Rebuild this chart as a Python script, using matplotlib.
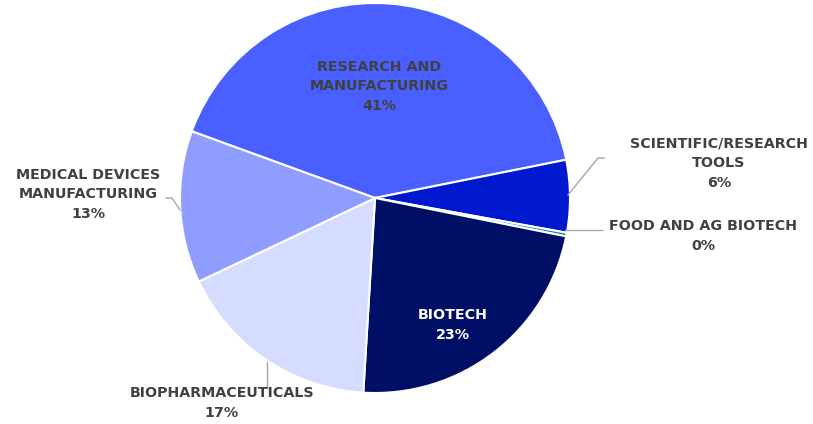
import matplotlib.pyplot as plt

# shares by segment (percent)
segments = ['RESEARCH AND\nMANUFACTURING', 'SCIENTIFIC/RESEARCH\nTOOLS', 'FOOD AND AG BIOTECH',
            'BIOTECH', 'BIOPHARMACEUTICALS', 'MEDICAL DEVICES\nMANUFACTURING']
shares = [41.3, 6.0, 0.3, 22.8, 17.0, 12.6]
colors = ['#4a5fff', '#0019cf', '#2e7b8c', '#000f66', '#d6dcff', '#8f9dff']

W, H = 813, 424
cx, cy, R = 375, 198, 195


def px(x, y):
    # pixel position in the image -> pie data coords
    return (x - cx) / R, (cy - y) / R


fig = plt.figure(figsize=(W / 100, H / 100), dpi=100)
ax = fig.add_axes([(cx - R) / W, (H - cy - R) / H, 2 * R / W, 2 * R / H])
ax.pie(shares, colors=colors, startangle=160, counterclock=False,
       wedgeprops=dict(edgecolor='white', linewidth=1.5))
ax.set_xlim(-1, 1)
ax.set_ylim(-1, 1)
ax.set_aspect('equal')
ax.axis('off')

# label placement (pixel centres), text colour
label_pos = [(379, 86, '#404040'), (719, 163, '#404040'), (703, 236, '#404040'),
             (453, 325, 'white'), (222, 403, '#404040'), (88, 194, '#404040')]

for name, val, (lx, ly, c) in zip(segments, shares, label_pos):
    x, y = px(lx, ly)
    ax.text(x, y, f'{name}\n{round(val)}%', ha='center', va='center', color=c,
            fontsize=10.3, fontweight='bold', linespacing=1.5, family='DejaVu Sans',
            clip_on=False)

# leader lines
leaders = [
    [(568, 195), (598, 158), (604, 158)],
    [(565, 230), (602, 230)],
    [(267, 362), (267, 388)],
    [(180, 210), (172, 198), (166, 198)],
]
for pts in leaders:
    xs, ys = zip(*[px(a, b) for a, b in pts])
    ax.plot(xs, ys, color='#a6a6a6', linewidth=1, clip_on=False)

fig.savefig('out.png', dpi=100)
